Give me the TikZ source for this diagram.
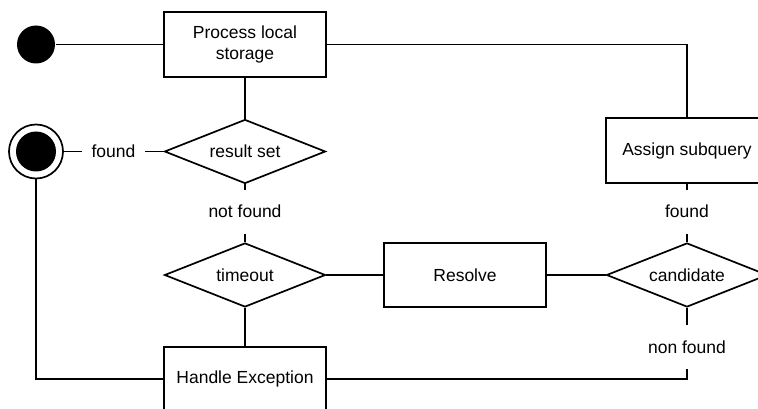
\documentclass[tikz,border=0pt]{standalone}
\usepackage{fontspec}
\setmainfont{Liberation Sans}
\usetikzlibrary{shapes.geometric}

\tikzset{
  proc/.style={draw, minimum width=162pt, minimum height=65pt, align=center, inner sep=2pt},
  decide/.style={draw, diamond, shape aspect=2.5, minimum width=161pt, minimum height=64pt, inner sep=0pt},
  guard/.style={inner xsep=9pt, inner ysep=15pt, text height=12pt, text depth=0pt},
}

\begin{document}
\begin{tikzpicture}[x=1pt, y=-1pt, line width=1.7pt, font=\fontsize{17.5}{21}\selectfont]
  \useasboundingbox (0,0) rectangle (758,409);
  \clip (0,0) rectangle (758,409);

  \node[circle, fill=black, minimum size=38pt, inner sep=0pt] (start) at (36,44.5) {};
  \node[circle, draw, minimum size=54pt, inner sep=0pt,
        path picture={\fill (path picture bounding box.center) circle (20pt);}] (stop) at (36,151.5) {};

  \node[proc] (pls) at (245,44.5) {Process local\\storage};
  \node[proc] (asq) at (687,150.5) {Assign subquery};
  \node[decide] (res) at (245,151.5) {result set};
  \node[decide] (tmo) at (245,275) {timeout};
  \node[proc, minimum height=64pt] (rsv) at (465,275) {Resolve};
  \node[decide] (cnd) at (687,275) {candidate};
  \node[proc, minimum height=64pt] (hex) at (245,379) {Handle Exception};

  \node[guard] (lf1) at (113.5,151.5) {found};
  \node[guard] (lnf) at (245,212) {not found};
  \node[guard] (lf2) at (687,212) {found};
  \node[guard] (lnn) at (687,347) {non found};

  \draw (start) -- (pls);
  \draw (pls) -| (asq);
  \draw (pls) -- (res);
  \draw (stop) -- (lf1) -- (res);
  \draw (res) -- (lnf) -- (tmo);
  \draw (tmo) -- (rsv) -- (cnd);
  \draw (asq) -- (lf2) -- (cnd);
  \draw (cnd) -- (lnn);
  \draw (lnn) |- (hex);
  \draw (tmo) -- (hex);
  \draw (stop) |- (hex);
\end{tikzpicture}
\end{document}
